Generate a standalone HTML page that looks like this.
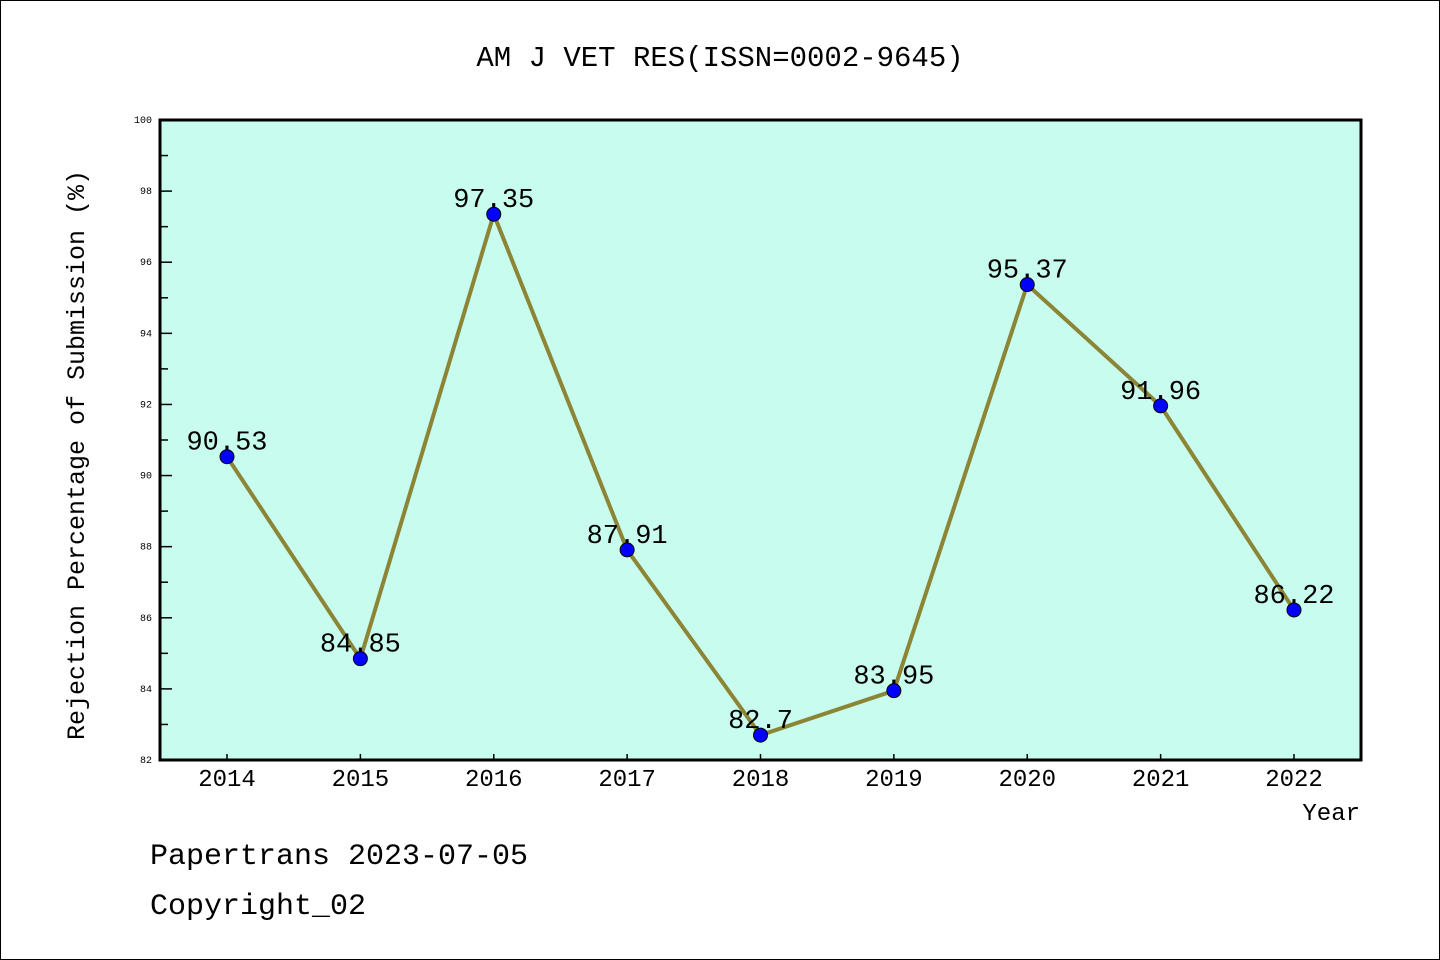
<!DOCTYPE html>
<html><head><meta charset="utf-8"><style>
body{margin:0;background:#fff}
svg{display:block}
text{font-family:"Liberation Mono",monospace;fill:#000}
</style></head><body>
<svg id="c" width="1440" height="960">
<rect x="0.5" y="0.5" width="1439" height="959" fill="#fff" stroke="#000"/>
<text x="720" y="66" font-size="29" text-anchor="middle">AM J VET RES(ISSN=0002-9645)</text>
<rect x="160" y="120" width="1201" height="640" fill="#c8fcee"/>
<g id="axes"></g>
<g id="marks"></g>
<rect x="160" y="120" width="1201" height="640" fill="none" stroke="#000" stroke-width="3"/>
<text transform="translate(84,455) rotate(-90)" font-size="25" text-anchor="middle">Rejection Percentage of Submission (%)</text>
<text x="1360" y="820" font-size="24" text-anchor="end">Year</text>
<text x="150" y="864" font-size="30">Papertrans 2023-07-05</text>
<text x="150" y="914" font-size="30">Copyright_02</text>
</svg>
<script>
const years=["2014","2015","2016","2017","2018","2019","2020","2021","2022"];
const values=[90.53,84.85,97.35,87.91,82.7,83.95,95.37,91.96,86.22];
const labels=["90.53","84.85","97.35","87.91","82.7","83.95","95.37","91.96","86.22"];
const yTicks=[82,84,86,88,90,92,94,96,98,100];
const NS="http://www.w3.org/2000/svg";
const yMin=82,yMax=100,plotTop=120,plotBot=760;
const y=v=>plotBot-(v-yMin)/(yMax-yMin)*(plotBot-plotTop);
const x=i=>227+i*(1294-227)/(years.length-1);
function mk(t,a,p){const e=document.createElementNS(NS,t);for(const k in a)e.setAttribute(k,a[k]);p.appendChild(e);return e;}
const ax=document.getElementById('axes'),mg=document.getElementById('marks');
for(let v=yMin;v<=yMax;v++){
 const major=yTicks.includes(v);
 const l=mk('line',{x1:160,x2:160+(major?12:8),y1:y(v),y2:y(v),stroke:'#000','stroke-width':1.5},ax);
 
 
 if(major){const t=mk('text',{x:152,y:y(v)+3,'font-size':10,'text-anchor':'end'},ax);t.textContent=v;
 
 }
}
years.forEach((yr,i)=>{
 const l=mk('line',{x1:x(i),x2:x(i),y1:760,y2:754,stroke:'#000','stroke-width':1.5},ax);
 
 
 const t=mk('text',{x:x(i),y:786,'font-size':24,'text-anchor':'middle'},ax);t.textContent=yr;
 
 
});
const pl=mk('polyline',{points:values.map((v,i)=>x(i)+','+y(v)).join(' '),fill:'none',stroke:'#8b8535','stroke-width':4,'stroke-linejoin':'miter'},mg);


values.forEach((v,i)=>{
 const c=mk('circle',{cx:x(i),cy:y(v),r:7,fill:'#0000ff',stroke:'#000','stroke-width':1},mg);
 
 
 const t=mk('text',{x:x(i),y:y(v)-7,'font-size':27,'text-anchor':'middle'},mg);t.textContent=labels[i];
 
 
});
</script>
</body></html>
